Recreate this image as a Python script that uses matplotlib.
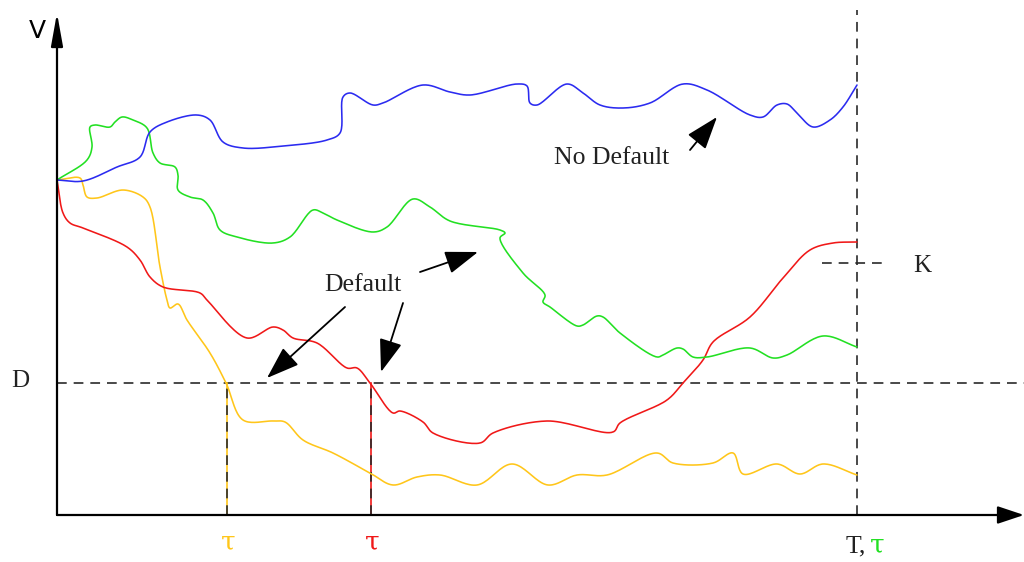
import numpy as np
import matplotlib
matplotlib.use("Agg")
import matplotlib.pyplot as plt

plt.rcParams["lines.scale_dashes"] = False

# Firm value paths V(t): (time, value) control points
blue_t = [0, 26, 60, 83, 93, 110, 140, 153, 166, 186, 226, 270, 283, 286, 293, 316, 326, 366,
          393, 413, 460, 470, 473, 480, 510, 526, 543, 566, 593, 626, 650, 693, 706, 720, 730,
          740, 756, 773, 786, 800]
blue_v = [335, 334, 348, 358, 383, 393, 400, 395, 373, 367, 369, 375, 382, 418, 422, 410, 412, 430,
          423, 420, 431, 429, 412, 410, 431, 422, 410, 407, 412, 431, 425, 400, 398, 410, 411,
          402, 388, 395, 408, 430]

green_t = [0, 30, 35, 33, 38, 53, 58, 65, 76, 90, 96, 103, 118, 121, 121, 133, 146, 156, 163, 180,
           216, 233, 256, 266, 280, 316, 330, 356, 373, 393, 443, 448, 443, 466, 488, 486, 493,
           520, 526, 540, 546, 563, 600, 606, 620, 626, 636, 650, 693, 716, 730, 766, 800]
green_v = [335, 355, 368, 388, 390, 388, 393, 398, 395, 387, 362, 352, 348, 340, 325, 318, 315, 302,
           285, 278, 272, 278, 305, 302, 295, 283, 288, 316, 308, 294, 285, 282, 277, 242, 220,
           213, 208, 189, 190, 199, 198, 182, 158, 160, 167, 166, 158, 158, 167, 157, 160, 179, 168]

red_t = [0, 6, 13, 26, 70, 83, 93, 106, 143, 150, 190, 216, 226, 236, 260, 290, 300, 313, 336,
         343, 366, 376, 423, 436, 490, 556, 563, 610, 626, 646, 656, 693, 726, 753, 776, 800]
red_v = [335, 302, 292, 287, 268, 255, 238, 228, 222, 215, 177, 188, 185, 177, 172, 147, 147, 132,
         102, 104, 93, 82, 72, 82, 94, 83, 92, 115, 132, 155, 173, 198, 237, 265, 272, 273]

yellow_t = [0, 23, 26, 30, 40, 66, 86, 93, 103, 110, 113, 121, 130, 153, 169, 186, 216, 228, 246,
            276, 313, 336, 360, 383, 420, 455, 491, 520, 550, 600, 616, 656, 676, 686, 720, 743,
            766, 800]
yellow_v = [335, 337, 330, 318, 317, 325, 318, 308, 248, 215, 207, 211, 195, 162, 132, 95, 94, 93,
            75, 62, 42, 30, 38, 40, 30, 51, 30, 40, 40, 62, 52, 52, 62, 41, 51, 41, 51, 40]

D_LEVEL = 132      # default barrier
K_LEVEL = 252      # face value of debt
T_MAT = 800        # maturity
TAU_YELLOW = 170   # default time, yellow path
TAU_RED = 314      # default time, red path

BLUE = "#2b2bf0"
GREEN = "#22e022"
RED = "#f01818"
YELLOW = "#ffc61a"
INK = "#2a2a2a"


def smooth(ts, vs, n=20):
    """Centripetal Catmull-Rom curve through the control points."""
    P = np.column_stack([ts, vs]).astype(float)
    P = np.vstack([2 * P[0] - P[1], P, 2 * P[-1] - P[-2]])
    out = []
    for i in range(1, len(P) - 2):
        p0, p1, p2, p3 = P[i - 1], P[i], P[i + 1], P[i + 2]
        d01 = max(np.linalg.norm(p1 - p0) ** 0.5, 1e-6)
        d12 = max(np.linalg.norm(p2 - p1) ** 0.5, 1e-6)
        d23 = max(np.linalg.norm(p3 - p2) ** 0.5, 1e-6)
        t0, t1 = 0.0, d01
        t2 = t1 + d12
        t3 = t2 + d23
        t = np.linspace(t1, t2, n, endpoint=False)[:, None]
        A1 = (t1 - t) / (t1 - t0) * p0 + (t - t0) / (t1 - t0) * p1
        A2 = (t2 - t) / (t2 - t1) * p1 + (t - t1) / (t2 - t1) * p2
        A3 = (t3 - t) / (t3 - t2) * p2 + (t - t2) / (t3 - t2) * p3
        B1 = (t2 - t) / (t2 - t0) * A1 + (t - t0) / (t2 - t0) * A2
        B2 = (t3 - t) / (t3 - t1) * A2 + (t - t1) / (t3 - t1) * A3
        C = (t2 - t) / (t2 - t1) * B1 + (t - t1) / (t2 - t1) * B2
        out.append(C)
    out.append(P[-2][None, :])
    C = np.vstack(out)
    return C[:, 0], C[:, 1]


fig = plt.figure(figsize=(10.24, 5.62), dpi=100)
ax = fig.add_axes([0, 0, 1, 1])
ax.set_xlim(-57, 967)
ax.set_ylim(-47, 515)
ax.axis("off")

serif = "Liberation Serif"
dash = (0, (7, 5))

# Barrier and maturity guides
ax.plot([0, 967], [D_LEVEL, D_LEVEL], color=INK, lw=1.2, linestyle=dash, zorder=1)
ax.plot([T_MAT, T_MAT], [0, 505], color=INK, lw=1.2, linestyle=dash, zorder=1)
ax.plot([765, 828], [K_LEVEL, K_LEVEL], color=INK, lw=1.2, linestyle=dash, zorder=1)

# Default-time markers
ax.plot([TAU_YELLOW, TAU_YELLOW], [0, D_LEVEL], color=YELLOW, lw=1.2, zorder=2)
ax.plot([TAU_YELLOW, TAU_YELLOW], [0, D_LEVEL], color=INK, lw=1.2, linestyle=dash, zorder=2)
ax.plot([TAU_RED, TAU_RED], [0, D_LEVEL], color=RED, lw=1.2, zorder=2)
ax.plot([TAU_RED, TAU_RED], [0, D_LEVEL], color=INK, lw=1.2, linestyle=dash, zorder=2)

# Paths
for ts, vs, col in [(yellow_t, yellow_v, YELLOW), (red_t, red_v, RED),
                    (green_t, green_v, GREEN), (blue_t, blue_v, BLUE)]:
    x, y = smooth(ts, vs)
    ax.plot(x, y, color=col, lw=1.15, solid_capstyle="round", zorder=3)

# Axes with arrowheads
ax.annotate("", xy=(0, 502), xytext=(0, 0),
            arrowprops=dict(arrowstyle="-|>,head_length=1.0,head_width=0.18",
                            color="black", lw=1.6, mutation_scale=20,
                            shrinkA=0, shrinkB=0), zorder=4)
ax.annotate("", xy=(967, 0), xytext=(0, 0),
            arrowprops=dict(arrowstyle="-|>,head_length=0.9,head_width=0.3",
                            color="black", lw=1.6, mutation_scale=18,
                            shrinkA=0, shrinkB=0), zorder=4)

# Pointer arrows
arrow_kw = dict(arrowstyle="-|>,head_length=1.2,head_width=0.42", color="black",
                lw=1.3, mutation_scale=17, shrinkA=0, shrinkB=0)
ax.annotate("", xy=(660, 398), xytext=(633, 365), arrowprops=arrow_kw)
ax.annotate("", xy=(421, 263), xytext=(363, 243), arrowprops=arrow_kw)
ax.annotate("", xy=(210, 137), xytext=(288, 208), arrowprops=arrow_kw)
ax.annotate("", xy=(324, 143), xytext=(346, 212), arrowprops=arrow_kw)

# Labels
ax.text(555, 357, "No Default", family=serif, fontsize=18.5, color="#222222",
        ha="center", va="center")
ax.text(306, 230, "Default", family=serif, fontsize=18.5, color="#222222",
        ha="center", va="center")
ax.text(-20, 484, "V", family="DejaVu Sans", fontsize=18, color="black",
        ha="center", va="center")
ax.text(-37, 134, "D", family=serif, fontsize=18, color="#222222",
        ha="center", va="center")
ax.text(865, 249, "K", family=serif, fontsize=18, color="#222222",
        ha="center", va="center")
ax.text(TAU_YELLOW + 1, -27, "τ", family="DejaVu Serif", fontsize=19, color=YELLOW,
        ha="center", va="center")
ax.text(TAU_RED + 1, -27, "τ", family="DejaVu Serif", fontsize=19, color=RED,
        ha="center", va="center")
ax.text(809, -31, "T,", family=serif, fontsize=18.5, color="#222222",
        ha="right", va="center")
ax.text(813, -30, "τ", family="DejaVu Serif", fontsize=19, color=GREEN,
        ha="left", va="center")

fig.savefig("out.png", dpi=100)
